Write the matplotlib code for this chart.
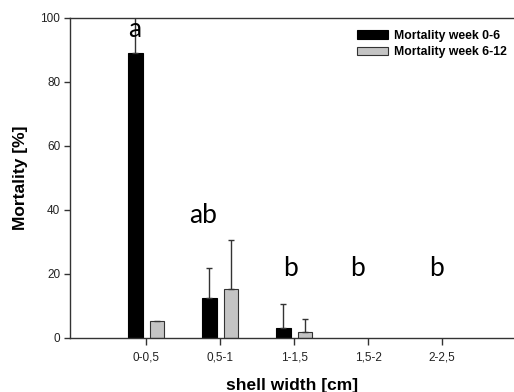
import numpy as np
import matplotlib
matplotlib.use("Agg")
import matplotlib.pyplot as plt

# data
categories = ['0-0,5', '0,5-1', '1-1,5', '1,5-2', '2-2,5']
week_0_6 = [89.0, 12.4, 3.0, 0.0, 0.0]
week_0_6_err = [12.0, 9.6, 7.5, np.nan, np.nan]
week_6_12 = [5.4, 15.2, 1.8, 0.0, 0.0]
week_6_12_err = [np.nan, 15.5, 4.2, np.nan, np.nan]

# significance letters (text, x in category units, baseline y)
letters = ['a', 'ab', 'b', 'b', 'b']
letter_x = [-0.15, 0.77, 1.95, 2.86, 3.92]
letter_y = [94.0, 35.9, 19.4, 19.4, 19.4]

plt.rcParams['font.family'] = ['Liberation Sans', 'DejaVu Sans']

fig = plt.figure(figsize=(5.14, 3.92), dpi=100)
ax = fig.add_axes([70 / 514, 1 - 338 / 392, 1 - 70 / 514, (338 - 18) / 392])

x = np.arange(len(categories))
w = 0.19
off = 0.145
err_kw = dict(ecolor='#333333', elinewidth=1.0, capsize=2.2, capthick=1.0)

h1 = np.array(week_0_6)
h2 = np.array(week_6_12)
# zero-height bars are not drawn in the original
ax.bar(x - off, np.where(h1 > 0, h1, np.nan), w, color='black', edgecolor='black',
       linewidth=0.8, yerr=[np.zeros(len(x)), week_0_6_err], error_kw=err_kw,
       label='Mortality week 0-6')
ax.bar(x + off, np.where(h2 > 0, h2, np.nan), w, color='#c4c4c4', edgecolor='#333333',
       linewidth=0.8, yerr=[np.zeros(len(x)), week_6_12_err], error_kw=err_kw,
       label='Mortality week 6-12')

for t, lx, ly in zip(letters, letter_x, letter_y):
    ax.text(lx, ly, t, ha='center', va='baseline', fontsize=19,
            family=['Lato', 'DejaVu Sans'], color='black')

ax.set_xlim(-1.03, 4.97)
ax.set_ylim(0, 100)
ax.set_xticks(x)
ax.set_xticklabels(categories)
ax.set_yticks([0, 20, 40, 60, 80, 100])

for s in ['left', 'top', 'bottom']:
    ax.spines[s].set_color('#333333')
    ax.spines[s].set_linewidth(1.0)
ax.spines['right'].set_visible(False)

ax.tick_params(axis='both', direction='out', length=4, width=1.0,
               color='#333333', labelsize=8.5, labelcolor='#222222', pad=3)
ax.tick_params(axis='x', length=5, pad=5)

ax.set_xlabel('shell width [cm]', fontsize=12.5, fontweight='bold', labelpad=10)
ax.set_ylabel('Mortality [%]', fontsize=12.5, fontweight='bold', labelpad=9)

fig.legend(loc='upper left', bbox_to_anchor=(357 / 514, 1 - 30 / 392),
           frameon=False, prop={'weight': 'bold', 'size': 8.8},
           handlelength=2.5, handleheight=0.75, handletextpad=0.5,
           labelspacing=0.35, borderpad=0, borderaxespad=0)

fig.savefig('out.png', dpi=100)
